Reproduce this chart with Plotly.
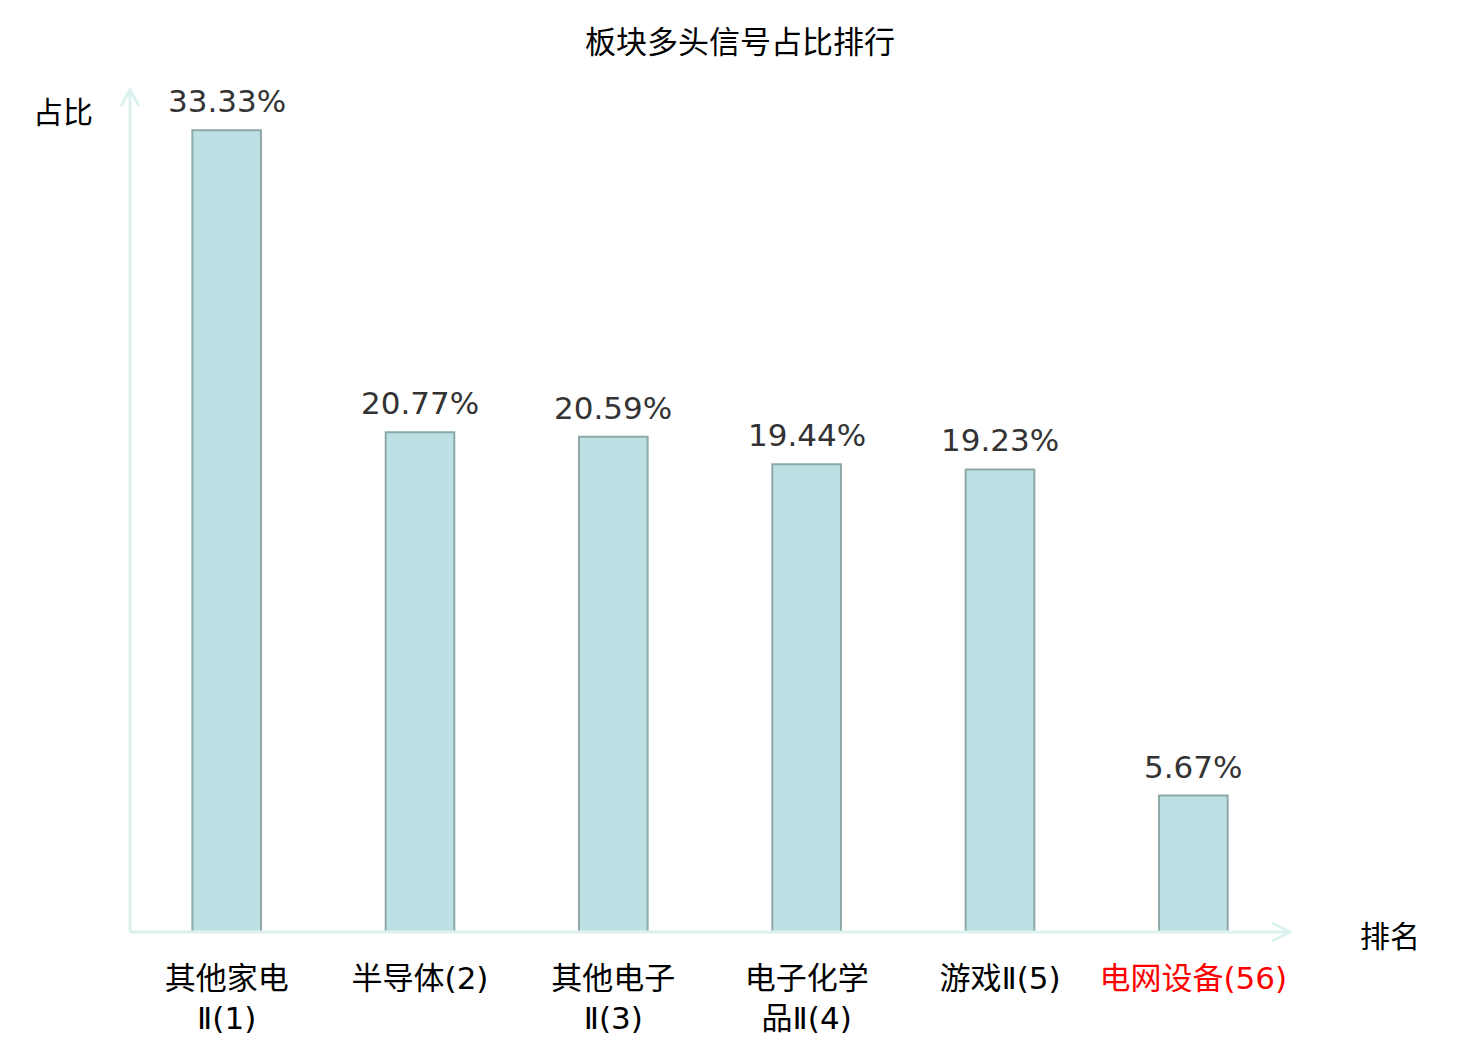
import plotly.graph_objects as go

# 板块多头信号占比排行
categories = ['其他家电<br>Ⅱ(1)', '半导体(2)', '其他电子<br>Ⅱ(3)', '电子化学<br>品Ⅱ(4)', '游戏Ⅱ(5)', '电网设备(56)']
ratios = [33.33, 20.77, 20.59, 19.44, 19.23, 5.67]
highlight = '电网设备(56)'

AXIS_COLOR = '#dcf1ee'
CJK = 'Noto Sans CJK SC'
LABEL_FONT = 'DejaVu Sans, Noto Sans CJK SC'

ticktext = [f'<span style="color:#ff0000">{c}</span>' if c == highlight else c
            for c in categories]

fig = go.Figure()
fig.add_trace(go.Bar(
    x=list(range(len(categories))), y=ratios, width=0.355,
    marker=dict(color='#bce0e3', line=dict(color='#8ea8a8', width=2)),
    hoverinfo='skip',
))

# value labels above bars
for i, v in enumerate(ratios):
    fig.add_annotation(x=i, y=v, text=f'{v:.2f}%', showarrow=False,
                       yanchor='bottom', yshift=9,
                       font=dict(family='DejaVu Sans', size=31, color='#333333'))

# axis titles
fig.add_annotation(x=0, y=1, xref='paper', yref='paper', text='占比', showarrow=False,
                   xanchor='center', yanchor='middle', xshift=-67, yshift=-20,
                   font=dict(family=CJK, size=30, color='#000000'))
fig.add_annotation(x=1, y=0, xref='paper', yref='paper', text='排名', showarrow=False,
                   xanchor='center', yanchor='middle', xshift=100, yshift=-2,
                   font=dict(family=CJK, size=30, color='#000000'))

# axis lines with open arrowheads
fig.add_shape(type='line', xref='paper', yref='paper', x0=0, x1=0, y0=0, y1=1,
              line=dict(color=AXIS_COLOR, width=3))
fig.add_shape(type='line', xref='paper', yref='paper', x0=0, x1=1, y0=0, y1=0,
              line=dict(color=AXIS_COLOR, width=3))
fig.add_shape(type='path', xref='paper', yref='paper', xsizemode='pixel', ysizemode='pixel',
              xanchor=0, yanchor=1, path='M -9,-16 L 0,0 L 9,-16',
              line=dict(color=AXIS_COLOR, width=3))
fig.add_shape(type='path', xref='paper', yref='paper', xsizemode='pixel', ysizemode='pixel',
              xanchor=1, yanchor=0, path='M -18,9 L 0,0 L -18,-9',
              line=dict(color=AXIS_COLOR, width=3))

# page body adds an 8px offset, margins compensate for it
fig.update_layout(
    width=1480, height=1040,
    margin=dict(l=122, r=198, t=82, b=109),
    paper_bgcolor='white', plot_bgcolor='white',
    showlegend=False,
    title=dict(text='板块多头信号占比排行', x=(740 - 8) / 1480, xanchor='center',
               y=1 - 34 / 1040, yanchor='middle',
               font=dict(family=CJK, size=31, color='#000000')),
    xaxis=dict(range=[-0.5, 5.5], tickmode='array', tickvals=list(range(len(categories))),
               ticktext=ticktext, showgrid=False, zeroline=False, showline=False,
               ticks='', ticklabelstandoff=25,
               tickfont=dict(family=LABEL_FONT, size=31, color='#000000')),
    yaxis=dict(range=[0, 35], showgrid=False, zeroline=False, showline=False,
               showticklabels=False, ticks=''),
)

fig.write_html('out.html')
